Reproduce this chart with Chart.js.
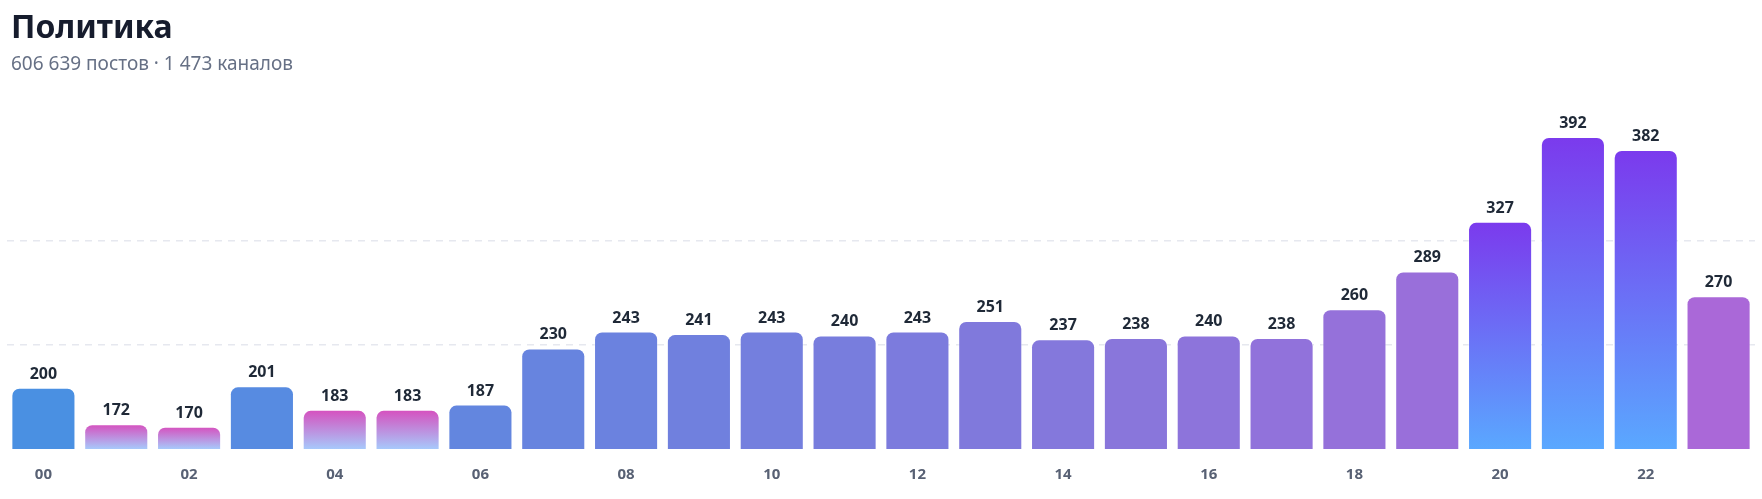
<!DOCTYPE html>
<html lang="ru">
<head>
<meta charset="utf-8">
<title>Политика</title>
<script src="https://cdn.jsdelivr.net/npm/chart.js@4.4.1/dist/chart.umd.min.js"></script>
<style>
  html, body {
    margin: 0;
    padding: 0;
    background: #ffffff;
    width: 1762px;
    height: 499px;
    overflow: hidden;
    font-family: "Noto Sans", sans-serif;
  }
  .wrap {
    position: relative;
    width: 1762px;
    height: 499px;
    overflow: hidden;
  }
  .title {
    position: absolute;
    left: 11px;
    top: 10px;
    margin: 0;
    font-size: 32px;
    line-height: 1;
    font-weight: 700;
    color: #161c2d;
  }
  .subtitle {
    position: absolute;
    left: 11px;
    top: 54px;
    margin: 0;
    font-size: 19px;
    line-height: 1;
    color: #667085;
  }
  .chart-box {
    position: absolute;
    left: 0;
    top: 0;
    width: 1762px;
    height: 501px;
  }
</style>
</head>
<body>
<div class="wrap">
  <div class="chart-box"><canvas id="hoursChart"></canvas></div>
  <h1 class="title">Политика</h1>
  <p class="subtitle">606 639 постов · 1 473 каналов</p>
</div>
<script>
// часы (категории)
const hours = ["00", "01", "02", "03", "04", "05", "06", "07", "08", "09", "10", "11",
  "12", "13", "14", "15", "16", "17", "18", "19", "20", "21", "22", "23"];
// постов в час
const values = [200, 172, 170, 201, 183, 183, 187, 230, 243, 241, 243, 240,
  243, 251, 237, 238, 240, 238, 260, 289, 327, 392, 382, 270];
// подписи по оси X (только чётные часы)
const tickLabels = ["00", "02", "04", "06", "08", "10", "12", "14", "16", "18", "20", "22"];
// провалы и пики
const lowHours = ["01", "02", "04", "05"];
const peakHours = ["20", "21", "22"];

window.addEventListener("DOMContentLoaded", () => {
  const ctx = document.getElementById("hoursChart").getContext("2d");

  Chart.defaults.font.family = "'Noto Sans', sans-serif";

  // цвета
  const startColor = [74, 144, 226];
  const endColor = [170, 104, 216];
  const lowTop = "#d64fbe", lowBottom = "#a7c9fb";
  const peakTop = "#7b3aed", peakBottom = "#5aa8ff";

  function baseColor(i) {
    const t = i / (hours.length - 1);
    const c = startColor.map((s, k) => Math.round(s + (endColor[k] - s) * t));
    return "rgb(" + c.join(",") + ")";
  }

  function barColor(context) {
    const i = context.dataIndex;
    const chart = context.chart;
    const area = chart.chartArea;
    const hour = hours[i];
    const isLow = lowHours.includes(hour);
    const isPeak = peakHours.includes(hour);
    if (!isLow && !isPeak) return baseColor(i);
    if (!area || !chart.scales.y) return isLow ? lowTop : peakTop;
    const top = chart.scales.y.getPixelForValue(values[i]);
    const g = chart.ctx.createLinearGradient(0, top, 0, area.bottom);
    g.addColorStop(0, isLow ? lowTop : peakTop);
    g.addColorStop(1, isLow ? lowBottom : peakBottom);
    return g;
  }

  // подписи над столбцами
  const valueLabels = {
    id: "valueLabels",
    afterDatasetsDraw(chart) {
      const c = chart.ctx;
      const meta = chart.getDatasetMeta(0);
      c.save();
      c.font = "bold 16px 'Noto Sans', sans-serif";
      c.fillStyle = "#1f2937";
      c.textAlign = "center";
      c.textBaseline = "alphabetic";
      meta.data.forEach((bar, i) => {
        c.fillText(String(values[i]), bar.x, bar.y - 9);
      });
      c.restore();
    },
  };

  const yMin = Math.min(...values) * 0.9;
  const yMax = Math.max(...values);

  new Chart(ctx, {
    type: "bar",
    data: {
      labels: hours,
      datasets: [
        {
          data: values,
          backgroundColor: barColor,
          borderColor: "rgba(255,255,255,0.4)",
          borderWidth: 1,
          borderRadius: 8,
          borderSkipped: false,
          barPercentage: 0.88,
          categoryPercentage: 1,
        },
      ],
    },
    options: {
      responsive: true,
      maintainAspectRatio: false,
      animation: false,
      layout: {
        padding: { top: 137, left: 7, right: 7, bottom: 0 },
      },
      plugins: {
        legend: { display: false },
        tooltip: { enabled: false },
      },
      scales: {
        x: {
          grid: { display: false, drawTicks: false },
          border: { display: false },
          ticks: {
            padding: 17,
            autoSkip: false,
            maxRotation: 0,
            color: "#586174",
            font: { size: 15, weight: "bold" },
            callback: (v, i) => (tickLabels.includes(hours[i]) ? hours[i] : ""),
          },
        },
        y: {
          min: yMin,
          max: yMax,
          afterBuildTicks: (scale) => {
            const step = (yMax - yMin) / 3;
            scale.ticks = [0, 1, 2, 3].map((k) => ({ value: yMin + step * k }));
          },
          ticks: { display: false },
          grid: {
            drawTicks: false,
            lineWidth: 1.5,
            color: (c) => (c.index === 1 || c.index === 2 ? "#e6e8ef" : "rgba(0,0,0,0)"),
          },
          border: { display: false, dash: [7, 6] },
        },
      },
    },
    plugins: [valueLabels],
  });
});
</script>
</body>
</html>
